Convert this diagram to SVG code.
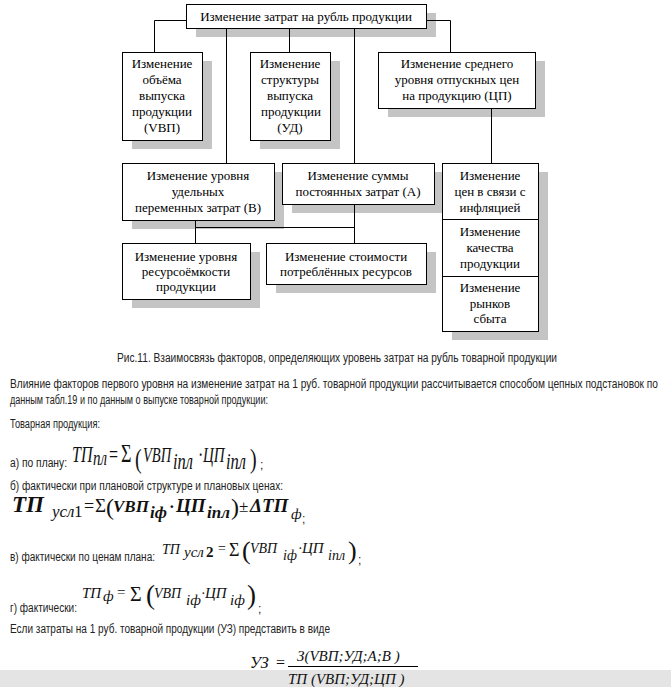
<svg xmlns="http://www.w3.org/2000/svg" width="671" height="687" viewBox="0 0 671 687">
<style>
.sh{fill:#c4c4c4}
.box{fill:#fff;stroke:#000;stroke-width:1}
.t{font-family:"Liberation Serif","Times New Roman",serif;font-size:13px;text-anchor:middle;fill:#000}
.conn path{fill:none;stroke:#000;stroke-width:1}
.body{font-family:"Liberation Sans",Arial,sans-serif;font-size:12px;fill:#222}
.f{font-family:"Liberation Serif","Times New Roman",serif;font-style:italic;fill:#111}
.n{font-style:normal}
.b{font-weight:bold}
</style>
<rect width="671" height="687" fill="#fff"/>
<g id="shadows">
<rect class="sh" x="196" y="13" width="240" height="24"/>
<rect class="sh" x="132" y="61" width="80" height="88"/>
<rect class="sh" x="260" y="61" width="80" height="88"/>
<rect class="sh" x="388" y="61" width="157" height="56"/>
<rect class="sh" x="132" y="172" width="152" height="57"/>
<rect class="sh" x="292" y="172" width="152" height="41"/>
<rect class="sh" x="452" y="172" width="96" height="168"/>
<rect class="sh" x="132" y="252" width="128" height="56"/>
<rect class="sh" x="276" y="252" width="160" height="41"/>
</g>
<g class="conn" id="connectors">
<path d="M186 20.5H154.5V52"/>
<path d="M426 20.5H450.5V52"/>
<path d="M226.5 28V163"/>
<path d="M289.5 28V52"/>
<path d="M354.5 28V163"/>
<path d="M491.5 108V163"/>
<path d="M195.5 220V243"/>
<path d="M195.5 227.5H354.5"/>
<path d="M354.5 204V243"/>
</g>
<g id="n-top"><rect class="box" x="186.5" y="4.5" width="240" height="24"/><text class="t" x="306" y="21">Изменение затрат на рубль продукции</text></g>
<g id="n-vvp"><rect class="box" x="122.5" y="52.5" width="80" height="88"/><text class="t" x="162" y="68">Изменение</text><text class="t" x="162" y="84">объёма</text><text class="t" x="162" y="100">выпуска</text><text class="t" x="162" y="116">продукции</text><text class="t" x="162" y="132">(VВП)</text></g>
<g id="n-ud"><rect class="box" x="250.5" y="52.5" width="80" height="88"/><text class="t" x="290" y="68">Изменение</text><text class="t" x="290" y="84">структуры</text><text class="t" x="290" y="100">выпуска</text><text class="t" x="291" y="116">продукции</text><text class="t" x="290" y="132">(УД)</text></g>
<g id="n-cp"><rect class="box" x="378.5" y="52.5" width="157" height="56"/><text class="t" x="457" y="68">Изменение среднего</text><text class="t" x="457" y="84">уровня отпускных цен</text><text class="t" x="457" y="100">на продукцию (ЦП)</text></g>
<g id="n-b"><rect class="box" x="122.5" y="163.5" width="152" height="57"/><text class="t" x="198" y="180">Изменение уровня</text><text class="t" x="198" y="196">удельных</text><text class="t" x="198" y="212">переменных затрат (В)</text></g>
<g id="n-a"><rect class="box" x="282.5" y="163.5" width="152" height="41"/><text class="t" x="358" y="180">Изменение суммы</text><text class="t" x="358" y="196">постоянных затрат (А)</text></g>
<g id="n-infl"><rect class="box" x="442.5" y="163.5" width="96" height="56"/><text class="t" x="490" y="180">Изменение</text><text class="t" x="490" y="196">цен в связи с</text><text class="t" x="490" y="212">инфляцией</text></g>
<g id="n-qual"><rect class="box" x="442.5" y="219.5" width="96" height="57"/><text class="t" x="490" y="236">Изменение</text><text class="t" x="490" y="252">качества</text><text class="t" x="490" y="268">продукции</text></g>
<g id="n-market"><rect class="box" x="442.5" y="276.5" width="96" height="55"/><text class="t" x="490" y="292">Изменение</text><text class="t" x="490" y="308">рынков</text><text class="t" x="490" y="323">сбыта</text></g>
<g id="n-res"><rect class="box" x="122.5" y="243.5" width="128" height="56"/><text class="t" x="186" y="261">Изменение уровня</text><text class="t" x="186" y="276">ресурсоёмкости</text><text class="t" x="186" y="291">продукции</text></g>
<g id="n-cost"><rect class="box" x="266.5" y="243.5" width="160" height="41"/><text class="t" x="346" y="261">Изменение стоимости</text><text class="t" x="346" y="276">потреблённых ресурсов</text></g>

<g id="text">
<text class="body" x="117" y="362" textLength="440" lengthAdjust="spacingAndGlyphs">Рис.11. Взаимосвязь факторов, определяющих уровень затрат на рубль товарной продукции</text>
<text class="body" x="10" y="388" textLength="648" lengthAdjust="spacingAndGlyphs">Влияние факторов первого уровня на изменение затрат на 1 руб. товарной продукции рассчитывается способом цепных подстановок по</text>
<text class="body" x="10" y="404" textLength="258" lengthAdjust="spacingAndGlyphs">данным табл.19 и по данным о выпуске товарной продукции:</text>
<text class="body" x="10" y="428" textLength="90" lengthAdjust="spacingAndGlyphs">Товарная продукция:</text>
<text class="body" x="10" y="467" textLength="57" lengthAdjust="spacingAndGlyphs">а) по плану:</text>
<text class="body" x="10" y="490" textLength="273" lengthAdjust="spacingAndGlyphs">б) фактически при плановой структуре и плановых ценах:</text>
<text class="body" x="10" y="561" textLength="145" lengthAdjust="spacingAndGlyphs">в) фактически по ценам плана:</text>
<text class="body" x="10" y="612" textLength="67" lengthAdjust="spacingAndGlyphs">г) фактически:</text>
<text class="body" x="10" y="633" textLength="320" lengthAdjust="spacingAndGlyphs">Если затраты на 1 руб. товарной продукции (УЗ) представить в виде</text>
<text class="body" x="260" y="469">;</text>
<text class="body" x="302" y="523">;</text>
<text class="body" x="358" y="564">;</text>
<text class="body" x="258" y="613">;</text>
</g>

<g id="formula-a" transform="translate(0,462) scale(1,1.4)">
<text class="f" font-size="16"><tspan x="72" y="0">ТП</tspan><tspan x="93" y="2" font-size="15">пл</tspan><tspan class="n" x="109" y="0">=</tspan><tspan class="n" x="121" y="0" font-size="18">Σ</tspan><tspan class="n" x="135" y="4" font-size="20">(</tspan><tspan x="143" y="0" font-size="14.5">VВП</tspan><tspan x="173" y="5" font-size="16.5">iпл</tspan><tspan class="n" x="198" y="0">·</tspan><tspan x="203" y="0" font-size="15">ЦП</tspan><tspan x="226" y="5" font-size="16.5">iпл</tspan><tspan class="n" x="250" y="4" font-size="20">)</tspan></text>
</g>

<g id="formula-b">
<text class="f"><tspan class="b" x="12" y="512" font-size="23">ТП</tspan><tspan x="52" y="517" font-size="17">усл</tspan><tspan class="n" x="74" y="517" font-size="17">1</tspan><tspan class="n" x="84" y="512" font-size="18">=</tspan><tspan class="n" x="95" y="512" font-size="19">Σ</tspan><tspan class="n" x="106" y="515" font-size="24">(</tspan><tspan class="b" x="113" y="512" font-size="17">VВП</tspan><tspan class="b" x="150" y="518" font-size="17">iф</tspan><tspan class="n b" x="169" y="512" font-size="17">·</tspan><tspan class="b" x="176" y="512" font-size="19">ЦП</tspan><tspan class="b" x="207" y="518" font-size="17">iпл</tspan><tspan class="n" x="231" y="515" font-size="24">)</tspan><tspan class="n" x="239" y="512" font-size="17">±</tspan><tspan class="b" x="250" y="512" font-size="19">ΔТП</tspan><tspan x="291" y="519" font-size="15">ф</tspan></text>
</g>

<g id="formula-c">
<text class="f"><tspan x="162" y="554" font-size="14">ТП</tspan><tspan x="184" y="557" font-size="15">усл</tspan><tspan class="n b" x="206" y="557" font-size="15">2</tspan><tspan class="n" x="218" y="553" font-size="14">=</tspan><tspan class="n" x="229" y="556" font-size="18">Σ</tspan><tspan class="n" x="242" y="559" font-size="26">(</tspan><tspan x="250" y="553" font-size="14">VВП</tspan><tspan x="283" y="560" font-size="14">iф</tspan><tspan class="n" x="298" y="553" font-size="14">·</tspan><tspan x="302" y="553" font-size="15">ЦП</tspan><tspan x="328" y="560" font-size="14">iпл</tspan><tspan class="n" x="348" y="559" font-size="26">)</tspan></text>
</g>

<g id="formula-d">
<text class="f"><tspan x="82" y="598" font-size="15">ТП</tspan><tspan x="103" y="601" font-size="15">ф</tspan><tspan class="n" x="117" y="597" font-size="15">=</tspan><tspan class="n" x="130" y="601" font-size="20">Σ</tspan><tspan class="n" x="146" y="604" font-size="27">(</tspan><tspan x="154" y="598" font-size="14">VВП</tspan><tspan x="186" y="605" font-size="15">iф</tspan><tspan class="n" x="201" y="598" font-size="14">·</tspan><tspan x="205" y="598" font-size="15">ЦП</tspan><tspan x="230" y="605" font-size="15">iф</tspan><tspan class="n" x="247" y="604" font-size="27">)</tspan></text>
</g>

<rect x="0" y="670" width="671" height="17" fill="#e4e4e4"/>
<g id="formula-uz">
<text class="f" font-size="16"><tspan x="250" y="668">УЗ</tspan><tspan class="n" x="276" y="668">=</tspan></text>
<text class="f" font-size="15" x="297" y="661">З(VВП;УД;А;В  )</text>
<line x1="288" y1="666.5" x2="418" y2="666.5" stroke="#000" stroke-width="1"/>
<text class="f" font-size="15" x="288" y="684">ТП (VВП;УД;ЦП  )</text>
</g>
</svg>
